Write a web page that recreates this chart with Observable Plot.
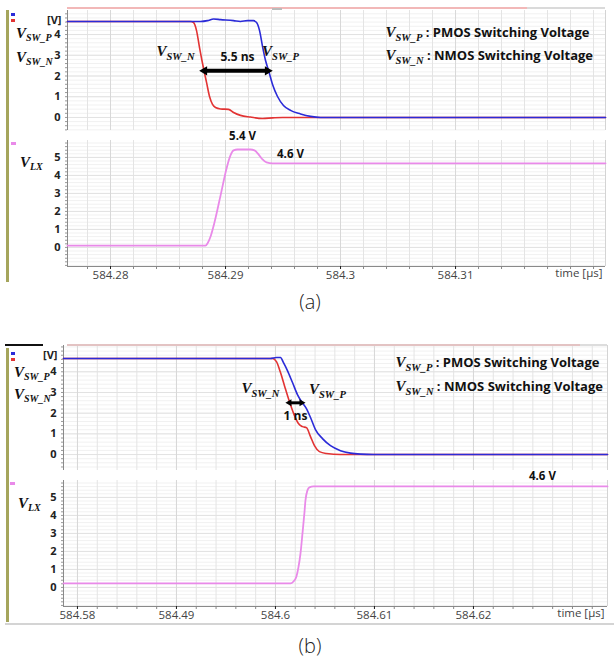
<!DOCTYPE html>
<html><head><meta charset="utf-8">
<script src="https://cdn.jsdelivr.net/npm/d3@7"></script>
<script src="https://cdn.jsdelivr.net/npm/@observablehq/plot@0.6"></script>
<style>
body{margin:0;background:#fff;}
#root{position:relative;width:614px;height:661px;overflow:hidden;font-family:"Open Sans",sans-serif;}
.pl{position:absolute;left:0;}
.box{position:absolute;}
.lbl{position:absolute;font-family:"Liberation Serif",serif;font-style:italic;font-weight:bold;font-size:15px;line-height:20px;color:#111;white-space:nowrap;}
.lbl sub{font-size:10px;vertical-align:-3px;}
.cap{position:absolute;font-family:"Open Sans",sans-serif;font-weight:300;font-size:20px;line-height:24px;color:#222;transform:translate(-50%,-50%);}
</style></head><body><div id="root"></div>
<script>
// ---------- Figure (a) data ----------
const aX = [584.27626, 584.32304];
const aXTicks = [584.28, 584.29, 584.3, 584.31];
const aXLabels = ["584.28", "584.29", "584.3", "584.31"];
// V_SW_N (red)
const aNt = [584.27626, 584.28696, 584.28722, 584.28748, 584.28774, 584.28809, 584.28835, 584.28861, 584.28887, 584.28913, 584.28957, 584.29026, 584.29070, 584.29130, 584.29217, 584.29322, 584.29409, 584.29496, 584.32304];
const aNv = [4.63, 4.63, 4.58, 4.19, 3.37, 2.36, 1.69, 1.01, 0.63, 0.48, 0.41, 0.39, 0.24, 0.10, 0.02, -0.05, -0.02, 0, 0];
// V_SW_P (blue)
const aPt = [584.27626, 584.28783, 584.28843, 584.28896, 584.28957, 584.29070, 584.29130, 584.29191, 584.29243, 584.29270, 584.29296, 584.29322, 584.29348, 584.29374, 584.29409, 584.29452, 584.29504, 584.29565, 584.29652, 584.29739, 584.29826, 584.32304];
const aPv = [4.63, 4.63, 4.67, 4.75, 4.72, 4.67, 4.63, 4.67, 4.67, 4.58, 4.19, 3.42, 2.75, 2.27, 1.59, 1.01, 0.58, 0.34, 0.17, 0.05, 0, 0];
// V_LX (pink)
const aLt = [584.27626, 584.28826, 584.28843, 584.28870, 584.28904, 584.28957, 584.29009, 584.29043, 584.29070, 584.29104, 584.29217, 584.29252, 584.29287, 584.29322, 584.29357, 584.29409, 584.32304];
const aLv = [0.1, 0.1, 0.22, 0.61, 1.39, 2.89, 4.39, 5.11, 5.39, 5.44, 5.44, 5.39, 5.17, 4.89, 4.72, 4.67, 4.67];
// annotations (a)
const aArrowT = [584.28817, 584.29365];
const aArrowV = 2.25;
const aTopText = ["V{SW_N}", "V{SW_P}", "5.5 ns"];
const aTopT = [584.28565, 584.29478, 584.29104];
const aTopV = [3.13, 3.13, 2.89];
const aLegendT = [584.30391, 584.30391];
const aLegendV = [4.05, 2.94];
const aBotText = ["5.4 V", "4.6 V"];
const aBotT = [584.29148, 584.29565];
const aBotV = [6.17, 5.17];

// ---------- Figure (b) data ----------
const bX = [584.57859, 584.63354];
const bXTicks = [584.58, 584.59, 584.6, 584.61, 584.62];
const bXLabels = ["584.58", "584.49", "584.6", "584.61", "584.62"];
const bPt = [584.57859, 584.59949, 584.60010, 584.60051, 584.60081, 584.60121, 584.60172, 584.60222, 584.60263, 584.60313, 584.60354, 584.60404, 584.60475, 584.60556, 584.60657, 584.60758, 584.60859, 584.60990, 584.63354];
const bPv = [4.64, 4.64, 4.69, 4.69, 4.44, 4.06, 3.48, 2.90, 2.56, 2.22, 1.79, 1.21, 0.77, 0.43, 0.19, 0.07, 0.02, 0, 0];
const bNt = [584.57859, 584.59970, 584.60010, 584.60051, 584.60091, 584.60141, 584.60192, 584.60232, 584.60273, 584.60313, 584.60354, 584.60394, 584.60444, 584.60515, 584.60657, 584.63354];
const bNv = [4.64, 4.64, 4.49, 3.96, 3.33, 2.56, 1.88, 1.50, 1.35, 1.30, 0.87, 0.43, 0.14, 0.05, 0, 0];
const bLt = [584.57859, 584.60152, 584.60182, 584.60212, 584.60232, 584.60253, 584.60273, 584.60293, 584.60303, 584.60323, 584.60343, 584.60384, 584.63354];
const bLv = [0.22, 0.22, 0.33, 0.61, 1.11, 1.89, 3.0, 4.17, 4.83, 5.39, 5.56, 5.61, 5.61];
const bArrowT = [584.60141, 584.60263];
const bArrowV = 2.5;
const bTopText = ["V{SW_N}", "V{SW_P}", "1 ns"];
const bTopT = [584.59848, 584.60525, 584.60202];
const bTopV = [3.14, 3.09, 1.88];
const bLegendT = [584.61212, 584.61212];
const bLegendV = [4.40, 3.24];
const bBotText = ["4.6 V"];
const bBotT = [584.62697];
const bBotV = [6.17];

const legendText = ["V{SW_P}\u00a0: PMOS Switching Voltage", "V{SW_N}\u00a0: NMOS Switching Voltage"];
const topYTicks = [0, 1, 2, 3, 4];
const botYTicks = [0, 1, 2, 3, 4, 5];

const BLUE = "#2b2bd8", RED = "#e23333", PINK = "#e98ae9";
const root = document.getElementById("root");
const NS = "http://www.w3.org/2000/svg";

function subify(svg) {
  svg.querySelectorAll("text").forEach(t => {
    const s = t.textContent;
    const m = s.match(/^V\{([^}]*)\}(.*)$/);
    if (!m) return;
    while (t.firstChild) t.removeChild(t.firstChild);
    const mk = (txt, attrs) => { const e = document.createElementNS(NS, "tspan"); e.textContent = txt; for (const k in attrs) e.setAttribute(k, attrs[k]); t.appendChild(e); };
    mk("V", {"font-family": "'Liberation Serif', serif", "font-style": "italic", "font-weight": "bold", "font-size": 15});
    mk(m[1], {"font-family": "'Liberation Serif', serif", "font-style": "italic", "font-weight": "bold", "font-size": 10.5, dy: 4});
    if (m[2]) mk(m[2], {"font-family": "'Open Sans', sans-serif", "font-weight": "bold", "font-size": 13, dy: -4, fill: "#111"});
  });
}

function steps(d, s) { const a = []; for (let v = Math.ceil(d[0] / s) * s; v <= d[1] + 1e-9; v += s) a.push(+v.toFixed(6)); return a; }

function panel({top, height, mt, mb, ml, mr, xd, yd, xTicks, xLabels, yTicks, vLabel, series, extra, bottomAxis}) {
  const marks = [
    Plot.gridY({ticks: steps(yd, 0.2), stroke: "#f1f1f1", strokeOpacity: 1}),
    Plot.gridX({ticks: steps(xd, 0.002), stroke: "#e4e4e4", strokeOpacity: 1}),
    Plot.gridY({ticks: yTicks, stroke: "#e2e2e2", strokeOpacity: 1}),
    Plot.gridX({ticks: xTicks, stroke: "#d8d8d8", strokeOpacity: 1}),
    Plot.ruleX([xd[1]], {stroke: "#d4d4d4"}),
    Plot.ruleX([xd[0]], {stroke: "#8a8a8a"}),
    Plot.axisY({ticks: steps(yd, 0.2), tickSize: 2, tickFormat: () => "", stroke: "#999", label: null}),
    Plot.axisY({ticks: yTicks, tickSize: 0, tickPadding: 7, tickFormat: d => `${d}`, fontWeight: "bold", fontSize: 11, label: null}),
  ];
  if (vLabel) marks.push(Plot.text(["[V]"], {frameAnchor: "top-left", dx: -6, dy: 6, textAnchor: "end", fontWeight: "bold", fontSize: 11}));
  if (bottomAxis) {
    marks.push(Plot.ruleY([yd[0]], {stroke: "#8a8a8a"}));
    marks.push(Plot.axisX({ticks: steps(xd, 0.002), tickSize: 3, tickFormat: () => "", stroke: "#888", label: null}));
    marks.push(Plot.axisX({ticks: xTicks, tickSize: 3, tickPadding: 1, tickFormat: d => xLabels[xTicks.indexOf(d)], fontSize: 11.5, fill: "#444", label: null}));
    marks.push(Plot.text(["time [µs]"], {frameAnchor: "bottom-right", dy: 10, dx: -3, textAnchor: "end", fontSize: 11.5, fill: "#444"}));
  }
  for (const s of series) {
    marks.push(Plot.line(s.t.map((t, i) => ({t, v: s.v[i]})), {x: "t", y: "v", stroke: s.color, strokeWidth: s.w || 1.6, curve: "monotone-x"}));
  }
  marks.push(...extra);
  const svg = Plot.plot({
    width: 614, height, marginTop: mt, marginBottom: mb, marginLeft: ml, marginRight: mr,
    x: bottomAxis ? {domain: xd, label: null} : {domain: xd, label: null, axis: null},
    y: {domain: yd, label: null},
    style: {fontFamily: "'Open Sans', sans-serif", fontSize: "11px", background: "transparent", overflow: "visible", color: "#222"},
    marks
  });
  svg.classList.add("pl");
  svg.style.top = top + "px";
  subify(svg);
  root.appendChild(svg);
}

function arrowMarks(ts, v, sw, r) {
  const seg = [{t1: ts[0], t2: ts[1], v}];
  const heads = [{t: ts[0], v, a: -90}, {t: ts[1], v, a: 90}];
  return [
    Plot.ruleY(seg, {y: "v", x1: "t1", x2: "t2", stroke: "#000", strokeWidth: sw}),
    Plot.dot(heads, {x: "t", y: "v", symbol: "triangle", rotate: "a", r, fill: "#000", stroke: "none"})
  ];
}
function textMarks(texts, ts, vs, opts) {
  return Plot.text(texts.map((s, i) => ({s, t: ts[i], v: vs[i]})), {x: "t", y: "v", text: "s", fill: "#111", ...opts});
}

// Figure (a) top
panel({top: 0, height: 135, mt: 10, mb: 5, ml: 67, mr: 9, xd: aX, yd: [-0.63, 5.16], xTicks: aXTicks, xLabels: aXLabels, yTicks: topYTicks, vLabel: true,
  series: [{t: aNt, v: aNv, color: RED}, {t: aPt, v: aPv, color: BLUE}],
  extra: [...arrowMarks(aArrowT, aArrowV, 4, 3.4),
    textMarks(aTopText, aTopT, aTopV, {fontWeight: "bold", fontSize: 12}),
    textMarks(legendText, aLegendT, aLegendV, {textAnchor: "start"})]});
// Figure (a) bottom
panel({top: 135, height: 150, mt: 5, mb: 19, ml: 67, mr: 9, xd: aX, yd: [-1.06, 5.94], xTicks: aXTicks, xLabels: aXLabels, yTicks: botYTicks, bottomAxis: true,
  series: [{t: aLt, v: aLv, color: PINK, w: 1.8}],
  extra: [textMarks(aBotText, aBotT, aBotV, {fontWeight: "bold", fontSize: 11.5})]});
// Figure (b) top
panel({top: 340, height: 135, mt: 5, mb: 5, ml: 63, mr: 7, xd: bX, yd: [-0.77, 5.27], xTicks: bXTicks, xLabels: bXLabels, yTicks: topYTicks, vLabel: true,
  series: [{t: bNt, v: bNv, color: RED}, {t: bPt, v: bPv, color: BLUE}],
  extra: [...arrowMarks(bArrowT, bArrowV, 3, 2.6),
    textMarks(bTopText, bTopT, bTopV, {fontWeight: "bold", fontSize: 12}),
    textMarks(legendText, bLegendT, bLegendV, {textAnchor: "start"})]});
// Figure (b) bottom
panel({top: 475, height: 150, mt: 5, mb: 19, ml: 63, mr: 7, xd: bX, yd: [-1.06, 5.94], xTicks: bXTicks, xLabels: bXLabels, yTicks: botYTicks, bottomAxis: true,
  series: [{t: bLt, v: bLv, color: PINK, w: 1.8}],
  extra: [textMarks(bBotText, bBotT, bBotV, {fontWeight: "bold", fontSize: 11.5})]});

// decorations
function box(l, t, w, h, c) { const d = document.createElement("div"); d.className = "box"; Object.assign(d.style, {left: l + "px", top: t + "px", width: w + "px", height: h + "px", background: c}); root.appendChild(d); }
box(67, 7, 460, 2, "#f2b8b8"); box(527, 7, 78, 2, "#dadada"); box(272, 8, 10, 2, "#bbb");
box(6, 10, 2.5, 272, "#a5a55c");
box(11, 13, 4, 3, BLUE); box(11, 19, 4, 3, RED); box(11, 142, 5, 3, PINK);
box(5, 344, 38, 2, "#111");
box(67, 344, 513, 2, "#e3c3c3"); box(580, 344, 27, 2, "#dddddd");
box(6, 348, 2.5, 274, "#a5a55c");
box(5, 623, 609, 1.5, "#d4d4d4");
box(11, 352, 4, 3, BLUE); box(11, 358, 4, 3, RED); box(10, 482, 5, 3, PINK);

const sideLabels = [["SW_P", 16, 23], ["SW_N", 16, 47], ["LX", 20, 152], ["SW_P", 14, 362], ["SW_N", 14, 384], ["LX", 18, 493]];
for (const [s, l, t] of sideLabels) { const d = document.createElement("div"); d.className = "lbl"; d.style.left = l + "px"; d.style.top = t + "px"; d.innerHTML = "V<sub>" + s + "</sub>"; root.appendChild(d); }
const caps = [["(a)", 310, 302], ["(b)", 310, 646]];
for (const [s, x, y] of caps) { const d = document.createElement("div"); d.className = "cap"; d.style.left = x + "px"; d.style.top = y + "px"; d.textContent = s; root.appendChild(d); }
</script></body></html>
